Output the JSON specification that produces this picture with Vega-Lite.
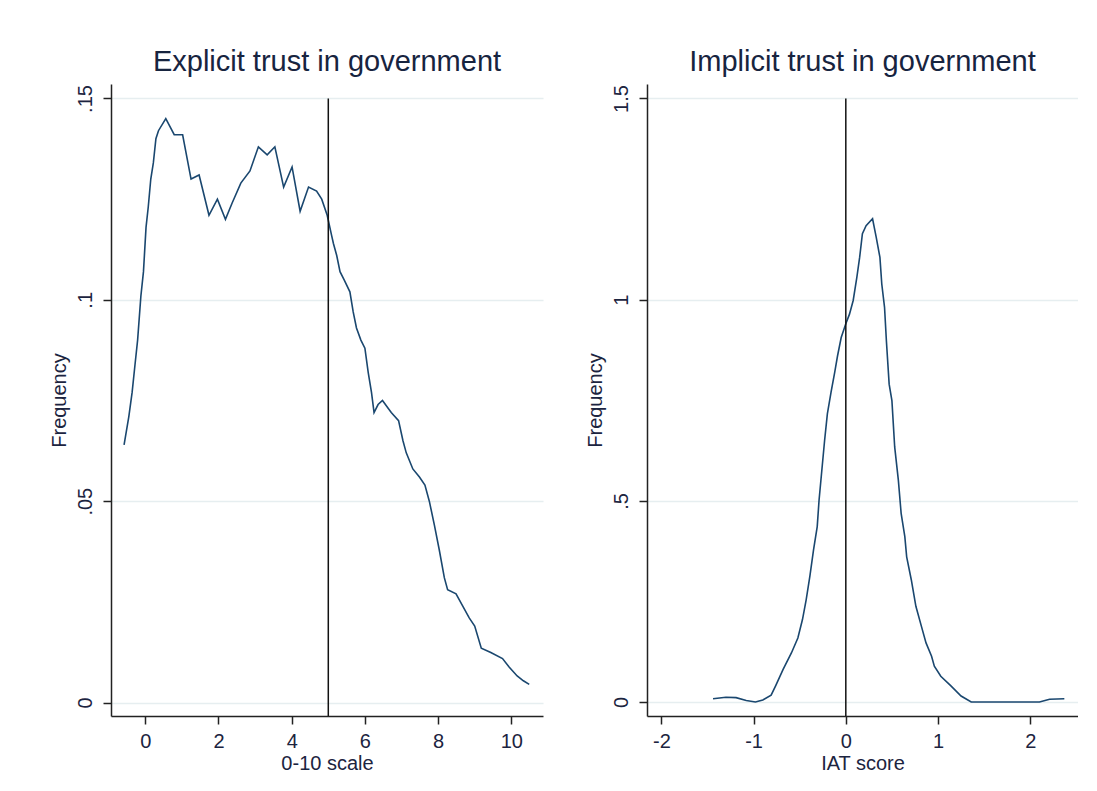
{
  "$schema": "https://vega.github.io/schema/vega-lite/v6.json",
  "background": "white",
  "padding": {"left": 49, "top": 48, "right": 0, "bottom": 0},
  "spacing": 42,
  "config": {
    "view": {"stroke": null},
    "axis": {
      "domainColor": "#222222",
      "domainWidth": 1.5,
      "tickColor": "#222222",
      "tickWidth": 1.5,
      "tickSize": 8,
      "labelColor": "#1c2440",
      "titleColor": "#1c2440",
      "titleFontWeight": "normal",
      "labelFont": "Liberation Sans",
      "titleFont": "Liberation Sans",
      "gridColor": "#e6eef0",
      "gridWidth": 1.5
    },
    "title": {"fontSize": 29, "font": "Liberation Sans", "fontWeight": "normal", "color": "#17243f", "frame": "group", "anchor": "middle", "offset": 7}
  },
  "datasets": {
    "explicit": [
      {"score": -0.58, "frequency": 0.064}, {"score": -0.45, "frequency": 0.071}, {"score": -0.36, "frequency": 0.077}, {"score": -0.28, "frequency": 0.084}, {"score": -0.21, "frequency": 0.090}, {"score": -0.12, "frequency": 0.101}, {"score": -0.05, "frequency": 0.107}, {"score": 0.02, "frequency": 0.118}, {"score": 0.08, "frequency": 0.123}, {"score": 0.15, "frequency": 0.130}, {"score": 0.22, "frequency": 0.134}, {"score": 0.29, "frequency": 0.140}, {"score": 0.36, "frequency": 0.142}, {"score": 0.56, "frequency": 0.145}, {"score": 0.79, "frequency": 0.141}, {"score": 0.92, "frequency": 0.141}, {"score": 1.02, "frequency": 0.141}, {"score": 1.25, "frequency": 0.130}, {"score": 1.47, "frequency": 0.131}, {"score": 1.74, "frequency": 0.121}, {"score": 1.97, "frequency": 0.125}, {"score": 2.19, "frequency": 0.120}, {"score": 2.37, "frequency": 0.124}, {"score": 2.61, "frequency": 0.129}, {"score": 2.86, "frequency": 0.132}, {"score": 3.09, "frequency": 0.138}, {"score": 3.33, "frequency": 0.136}, {"score": 3.54, "frequency": 0.138}, {"score": 3.78, "frequency": 0.128}, {"score": 4.01, "frequency": 0.133}, {"score": 4.23, "frequency": 0.122}, {"score": 4.46, "frequency": 0.128}, {"score": 4.68, "frequency": 0.127}, {"score": 4.82, "frequency": 0.125}, {"score": 4.97, "frequency": 0.121}, {"score": 5.09, "frequency": 0.116}, {"score": 5.14, "frequency": 0.114}, {"score": 5.23, "frequency": 0.111}, {"score": 5.32, "frequency": 0.107}, {"score": 5.43, "frequency": 0.105}, {"score": 5.59, "frequency": 0.102}, {"score": 5.68, "frequency": 0.097}, {"score": 5.77, "frequency": 0.093}, {"score": 5.89, "frequency": 0.090}, {"score": 6.0, "frequency": 0.088}, {"score": 6.09, "frequency": 0.082}, {"score": 6.18, "frequency": 0.077}, {"score": 6.25, "frequency": 0.072}, {"score": 6.36, "frequency": 0.074}, {"score": 6.48, "frequency": 0.075}, {"score": 6.72, "frequency": 0.072}, {"score": 6.92, "frequency": 0.070}, {"score": 7.04, "frequency": 0.065}, {"score": 7.13, "frequency": 0.062}, {"score": 7.31, "frequency": 0.058}, {"score": 7.49, "frequency": 0.056}, {"score": 7.64, "frequency": 0.054}, {"score": 7.76, "frequency": 0.050}, {"score": 7.9, "frequency": 0.044}, {"score": 8.03, "frequency": 0.038}, {"score": 8.17, "frequency": 0.031}, {"score": 8.26, "frequency": 0.028}, {"score": 8.49, "frequency": 0.027}, {"score": 8.67, "frequency": 0.024}, {"score": 8.85, "frequency": 0.021}, {"score": 9.0, "frequency": 0.019}, {"score": 9.18, "frequency": 0.0135}, {"score": 9.44, "frequency": 0.0124}, {"score": 9.76, "frequency": 0.0109}, {"score": 9.94, "frequency": 0.0088}, {"score": 10.16, "frequency": 0.0066}, {"score": 10.33, "frequency": 0.0054}, {"score": 10.49, "frequency": 0.0045}
    ],
    "implicit": [
      {"score": -1.44, "frequency": 0.008}, {"score": -1.3, "frequency": 0.012}, {"score": -1.19, "frequency": 0.011}, {"score": -1.08, "frequency": 0.004}, {"score": -0.98, "frequency": 0.0}, {"score": -0.9, "frequency": 0.005}, {"score": -0.81, "frequency": 0.017}, {"score": -0.76, "frequency": 0.041}, {"score": -0.68, "frequency": 0.081}, {"score": -0.59, "frequency": 0.122}, {"score": -0.52, "frequency": 0.159}, {"score": -0.47, "frequency": 0.205}, {"score": -0.43, "frequency": 0.254}, {"score": -0.39, "frequency": 0.312}, {"score": -0.35, "frequency": 0.378}, {"score": -0.31, "frequency": 0.436}, {"score": -0.29, "frequency": 0.502}, {"score": -0.26, "frequency": 0.576}, {"score": -0.23, "frequency": 0.65}, {"score": -0.2, "frequency": 0.716}, {"score": -0.16, "frequency": 0.77}, {"score": -0.12, "frequency": 0.82}, {"score": -0.09, "frequency": 0.86}, {"score": -0.05, "frequency": 0.906}, {"score": 0.0, "frequency": 0.94}, {"score": 0.04, "frequency": 0.964}, {"score": 0.08, "frequency": 0.998}, {"score": 0.12, "frequency": 1.056}, {"score": 0.15, "frequency": 1.105}, {"score": 0.18, "frequency": 1.164}, {"score": 0.22, "frequency": 1.184}, {"score": 0.29, "frequency": 1.201}, {"score": 0.33, "frequency": 1.155}, {"score": 0.37, "frequency": 1.105}, {"score": 0.39, "frequency": 1.039}, {"score": 0.42, "frequency": 0.981}, {"score": 0.44, "frequency": 0.898}, {"score": 0.47, "frequency": 0.79}, {"score": 0.5, "frequency": 0.749}, {"score": 0.53, "frequency": 0.634}, {"score": 0.57, "frequency": 0.551}, {"score": 0.6, "frequency": 0.469}, {"score": 0.64, "frequency": 0.411}, {"score": 0.66, "frequency": 0.361}, {"score": 0.71, "frequency": 0.304}, {"score": 0.76, "frequency": 0.238}, {"score": 0.82, "frequency": 0.188}, {"score": 0.87, "frequency": 0.147}, {"score": 0.93, "frequency": 0.114}, {"score": 0.96, "frequency": 0.089}, {"score": 1.03, "frequency": 0.064}, {"score": 1.14, "frequency": 0.04}, {"score": 1.25, "frequency": 0.015}, {"score": 1.36, "frequency": 0.0}, {"score": 2.1, "frequency": 0.0}, {"score": 2.21, "frequency": 0.007}, {"score": 2.37, "frequency": 0.008}
    ]
  },
  "hconcat": [
    {
      "title": "Explicit trust in government",
      "width": 432,
      "height": 632,
      "layer": [
        {
          "data": {"name": "explicit"},
          "mark": {"type": "line", "color": "#1a476f", "strokeWidth": 1.6},
          "encoding": {
            "x": {"field": "score", "type": "quantitative", "scale": {"domain": [-0.937, 10.866], "nice": false, "zero": false},
              "axis": {"title": "0-10 scale", "values": [0, 2, 4, 6, 8, 10], "grid": false, "labelExpr": "'' + datum.value", "labelFontSize": 20, "labelPadding": 7, "titleFontSize": 20, "titlePadding": 2}},
            "y": {"field": "frequency", "type": "quantitative", "scale": {"domain": [-0.00335, 0.1536], "nice": false, "zero": false},
              "axis": {"title": "Frequency", "values": [0, 0.05, 0.1, 0.15], "grid": true, "labelExpr": "datum.value == 0 ? '0' : datum.value == 0.05 ? '.05' : datum.value == 0.1 ? '.1' : '.15'", "labelAngle": 270, "labelAlign": "center", "labelBaseline": "bottom", "labelFontSize": 20, "labelPadding": 8, "titleFontSize": 20, "titlePadding": 6}}
          }
        },
        {
          "data": {"values": [{"score": 5}]},
          "mark": {"type": "rule", "color": "#111111", "strokeWidth": 1.5},
          "encoding": {
            "x": {"field": "score", "type": "quantitative"},
            "y": {"datum": 0.15},
            "y2": {"datum": -0.00335}
          }
        }
      ]
    },
    {
      "title": "Implicit trust in government",
      "width": 431,
      "height": 632,
      "layer": [
        {
          "data": {"name": "implicit"},
          "mark": {"type": "line", "color": "#1a476f", "strokeWidth": 1.6},
          "encoding": {
            "x": {"field": "score", "type": "quantitative", "scale": {"domain": [-2.156, 2.518], "nice": false, "zero": false},
              "axis": {"title": "IAT score", "values": [-2, -1, 0, 1, 2], "grid": false, "labelExpr": "datum.value < 0 ? '-' + abs(datum.value) : '' + datum.value", "labelFontSize": 20, "labelPadding": 7, "titleFontSize": 20, "titlePadding": 2}},
            "y": {"field": "frequency", "type": "quantitative", "scale": {"domain": [-0.0347, 1.536], "nice": false, "zero": false},
              "axis": {"title": "Frequency", "values": [0, 0.5, 1, 1.5], "grid": true, "labelExpr": "datum.value == 0 ? '0' : datum.value == 0.5 ? '.5' : datum.value == 1 ? '1' : '1.5'", "labelAngle": 270, "labelAlign": "center", "labelBaseline": "bottom", "labelFontSize": 20, "labelPadding": 8, "titleFontSize": 20, "titlePadding": 6}}
          }
        },
        {
          "data": {"values": [{"score": 0}]},
          "mark": {"type": "rule", "color": "#111111", "strokeWidth": 1.5},
          "encoding": {
            "x": {"field": "score", "type": "quantitative"},
            "y": {"datum": 1.5},
            "y2": {"datum": -0.0347}
          }
        }
      ]
    }
  ]
}
